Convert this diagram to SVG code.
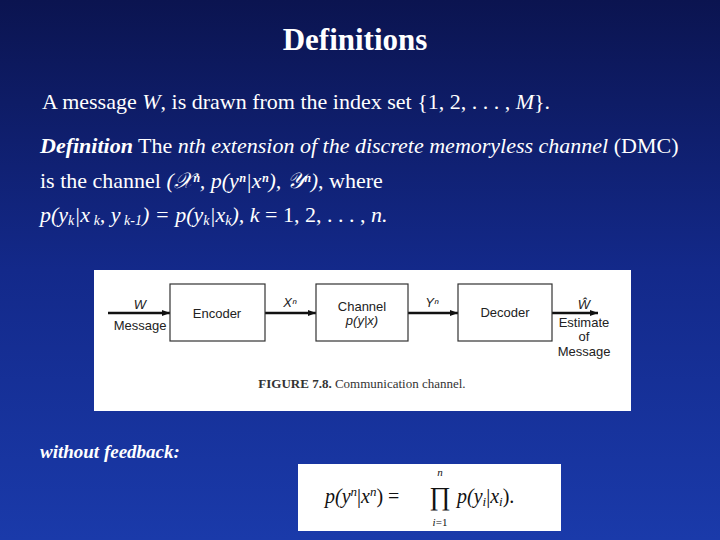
<svg xmlns="http://www.w3.org/2000/svg" width="720" height="540" viewBox="0 0 720 540">
<defs>
<linearGradient id="bg" x1="0" y1="0" x2="0" y2="1"><stop offset="0" stop-color="#0b1450"/><stop offset="0.5" stop-color="#13298a"/><stop offset="1" stop-color="#1a3aaa"/></linearGradient>
<marker id="ah" markerWidth="8" markerHeight="6" refX="8" refY="3" orient="auto" markerUnits="userSpaceOnUse"><path d="M0,0 L8,3 L0,6 z" fill="#111"/></marker>
<style>
.t{font-family:"Liberation Serif",serif;fill:#fff}
.i{font-style:italic}
.s{font-family:"Liberation Sans",sans-serif;fill:#222;font-size:13px}
.box{fill:#fff;stroke:#333;stroke-width:1.2}
.ln{stroke:#111;stroke-width:2.5;marker-end:url(#ah)}
</style>
</defs>
<rect width="720" height="540" fill="url(#bg)"/>
<text class="t" x="355" y="50" text-anchor="middle" font-weight="bold" font-size="31">Definitions</text>
<g font-size="22">
<text class="t" x="42" y="109">A message <tspan class="i">W</tspan>, is drawn from the index set {1, 2, . . . , <tspan class="i">M</tspan>}.</text>
<text class="t" x="40" y="153"><tspan class="i" font-weight="bold">Definition</tspan> The <tspan class="i">nth extension of the discrete memoryless channel</tspan> (DMC)</text>
<text class="t" x="40" y="188">is the channel <tspan class="i">(𝒳ⁿ, p(yⁿ|xⁿ), 𝒴ⁿ)</tspan>, where</text>
<text class="t i" x="40" y="222">p(y<tspan font-size="14" dy="3">k</tspan><tspan dy="-3">|x</tspan><tspan font-size="14" dy="3"> k</tspan><tspan dy="-3">, y</tspan><tspan font-size="14" dy="3"> k-1</tspan><tspan dy="-3">) = p(y</tspan><tspan font-size="14" dy="3">k</tspan><tspan dy="-3">|x</tspan><tspan font-size="14" dy="3">k</tspan><tspan dy="-3">), k</tspan><tspan font-style="normal"> = 1, 2, . . . , </tspan>n.</text>
</g>
<rect x="94" y="270" width="537" height="141" fill="#fff"/>
<g id="connectors">
<line class="ln" x1="108" y1="313" x2="170" y2="313"/>
<line class="ln" x1="265" y1="313" x2="316" y2="313"/>
<line class="ln" x1="408" y1="313" x2="458" y2="313"/>
<line class="ln" x1="552" y1="313" x2="598" y2="313"/>
</g>
<g id="encoder"><rect class="box" x="170" y="284" width="95" height="57"/><text class="s" x="217" y="318" text-anchor="middle">Encoder</text></g>
<g id="channel"><rect class="box" x="316" y="284" width="92" height="57"/><text class="s" x="362" y="311" text-anchor="middle">Channel</text><text class="s" x="362" y="325" text-anchor="middle" font-style="italic">p(y|x)</text></g>
<g id="decoder"><rect class="box" x="458" y="284" width="94" height="57"/><text class="s" x="505" y="317" text-anchor="middle">Decoder</text></g>
<text class="s" x="140" y="309" text-anchor="middle" font-style="italic">W</text>
<text class="s" x="140" y="330" text-anchor="middle">Message</text>
<text class="s" x="290" y="307" text-anchor="middle" font-style="italic">Xⁿ</text>
<text class="s" x="432" y="307" text-anchor="middle" font-style="italic">Yⁿ</text>
<text class="s" x="584" y="309" text-anchor="middle" font-style="italic">Ŵ</text>
<text class="s" x="584" y="327" text-anchor="middle">Estimate</text>
<text class="s" x="584" y="341" text-anchor="middle">of</text>
<text class="s" x="584" y="356" text-anchor="middle">Message</text>
<text x="362" y="388" text-anchor="middle" font-family="Liberation Serif,serif" font-size="13" fill="#333"><tspan font-weight="bold">FIGURE 7.8.</tspan> Communication channel.</text>
<text class="t i" x="40" y="458" font-weight="bold" font-size="19">without feedback:</text>
<rect x="298" y="464" width="263" height="67" fill="#fff"/>
<g font-family="Liberation Serif,serif" fill="#111" font-style="italic" font-size="20">
<text x="325" y="503">p(y<tspan font-size="13" dy="-7">n</tspan><tspan dy="7" font-style="normal">|</tspan>x<tspan font-size="13" dy="-7">n</tspan><tspan dy="7" font-style="normal">) =</tspan></text>
<text x="440" y="476" font-size="11" text-anchor="middle">n</text>
<text x="440" y="505" font-size="26" font-style="normal" text-anchor="middle">∏</text>
<text x="440" y="526" font-size="11" text-anchor="middle">i<tspan font-style="normal">=1</tspan></text>
<text x="457" y="503">p(y<tspan font-size="13" dy="3">i</tspan><tspan dy="-3" font-style="normal">|</tspan>x<tspan font-size="13" dy="3">i</tspan><tspan dy="-3" font-style="normal">).</tspan></text>
</g>
</svg>
